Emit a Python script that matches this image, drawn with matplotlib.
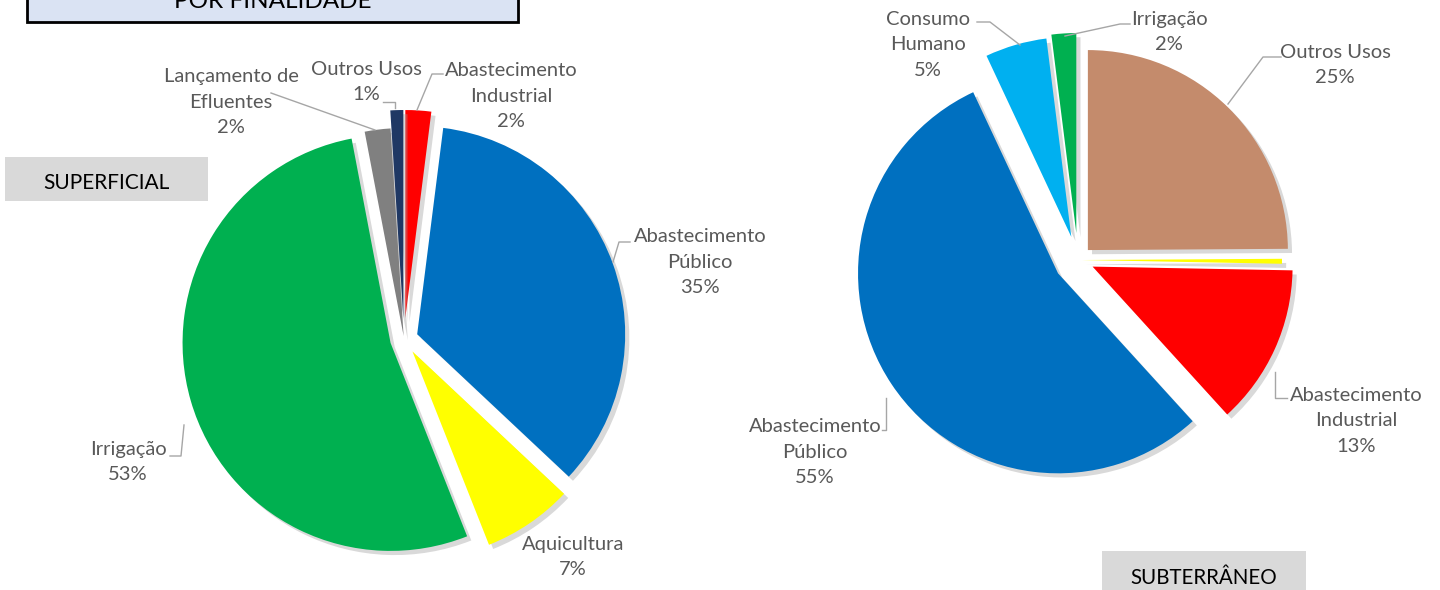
import matplotlib
matplotlib.use("Agg")
import matplotlib.pyplot as plt
import matplotlib.patheffects as pe
from matplotlib.patches import Rectangle

plt.rcParams['font.family'] = ['Lato', 'DejaVu Sans']

# ---------------- data ----------------
sup_categories = ["Abastecimento\nIndustrial", "Abastecimento\nPúblico", "Aquicultura",
                  "Irrigação", "Lançamento de\nEfluentes", "Outros Usos"]
sup_values = [2, 35, 7, 53, 2, 1]
sup_colors = ["#FF0000", "#0070C0", "#FFFF00", "#00B050", "#808080", "#1F3864"]
sup_explode_px = [21, 14, 15, 14, 3, 21]

sub_categories = ["Outros Usos", "Aquicultura", "Abastecimento\nIndustrial",
                  "Abastecimento\nPúblico", "Consumo\nHumano", "Irrigação"]
sub_values = [25, 0.4, 13, 55, 5, 2]
sub_colors = ["#C48B6C", "#FFFF00", "#FF0000", "#0070C0", "#00B0F0", "#00B050"]
sub_explode_px = [14, 4, 16, 24, 24, 27]

title_text = "POR FINALIDADE"
sup_title = "SUPERFICIAL"
sub_title = "SUBTERRÂNEO"

W, H = 1440, 590
fig = plt.figure(figsize=(W / 100, H / 100), dpi=100)
ax = fig.add_axes([0, 0, 1, 1])

def Y(y):
    return H - y

shadow = [pe.SimplePatchShadow(offset=(3, -3), shadow_rgbFace="#a0a0a0", alpha=0.4),
          pe.Normal()]

def draw_pie(values, colors, explode, center, radius):
    wedges, _ = ax.pie(values, colors=colors, explode=explode, startangle=90,
                       counterclock=False, radius=radius, center=center,
                       wedgeprops=dict(linewidth=0))
    for w in wedges:
        w.set_path_effects(shadow)
    return wedges

draw_pie(sup_values, sup_colors, sup_explode_px, (404, Y(339)), 208)
draw_pie(sub_values, sub_colors, sub_explode_px, (1078, Y(260)), 200)

ax.set_xlim(0, W)
ax.set_ylim(0, H)
ax.set_aspect('auto')
ax.axis('off')

def pct_labels(values):
    tot = sum(values)
    return [round(v / tot * 100) for v in values]

lab_color = "#595959"
lab_fs = 14.5
line_color = "#A6A6A6"

def put_label(cat, pct, x, y):
    ax.text(x, Y(y), f"{cat}\n{pct}%", ha="center", va="center", fontsize=lab_fs,
            color=lab_color, linespacing=1.6)

def leader(xs, ys):
    ax.plot(xs, [Y(v) for v in ys], color=line_color, lw=1.0)

# superficial labels
sp = pct_labels(sup_values)
sup_pos = [(511, 96), (700, 262), (573, 557), (128, 462), (231, 102), (366, 82)]
for cat, p, (x, y) in zip(sup_categories, sp, sup_pos):
    if p > 0:
        put_label(cat, p, x, y)
leader([443, 432, 417], [74, 74, 110])          # Abastecimento Industrial
leader([630, 619, 613], [242, 242, 262])        # Abastecimento Público
leader([170, 181, 184], [456, 456, 425])        # Irrigação
leader([271, 375], [93, 130])                   # Lançamento de Efluentes
leader([383, 395, 395], [102, 102, 108])        # Outros Usos

# subterraneo labels
bp = pct_labels(sub_values)
sub_pos = [(1335, 65), None, (1356, 421), (815, 452), (928, 45), (1169, 32)]
for cat, p, pos in zip(sub_categories, bp, sub_pos):
    if p > 0 and pos is not None:
        put_label(cat, p, pos[0], pos[1])
leader([1281, 1263, 1228], [57, 57, 104])       # Outros Usos
leader([1287, 1275, 1275], [398, 398, 372])     # Abastecimento Industrial
leader([882, 886, 886], [430, 430, 398])        # Abastecimento Público
leader([977, 990, 1020], [22, 22, 45])          # Consumo Humano
leader([1130, 1120, 1065], [24, 24, 36])        # Irrigação

# boxes
ax.add_patch(Rectangle((27, Y(22)), 491, 40, facecolor="#DAE3F3", edgecolor="black",
                       lw=2, zorder=5))
ax.text(273, Y(2), title_text, ha="center", va="center", fontsize=17.5, color="black", zorder=6)

ax.add_patch(Rectangle((5, Y(201)), 203, 44, facecolor="#D9D9D9", edgecolor="none", zorder=5))
ax.text(106, Y(183), sup_title, ha="center", va="center", fontsize=15, color="black", zorder=6)

ax.add_patch(Rectangle((1102, Y(600)), 204, 49, facecolor="#D9D9D9", edgecolor="none", zorder=5))
ax.text(1204, Y(578), sub_title, ha="center", va="center", fontsize=14.8, color="black", zorder=6)

fig.savefig("out.png", dpi=100, facecolor="white")
